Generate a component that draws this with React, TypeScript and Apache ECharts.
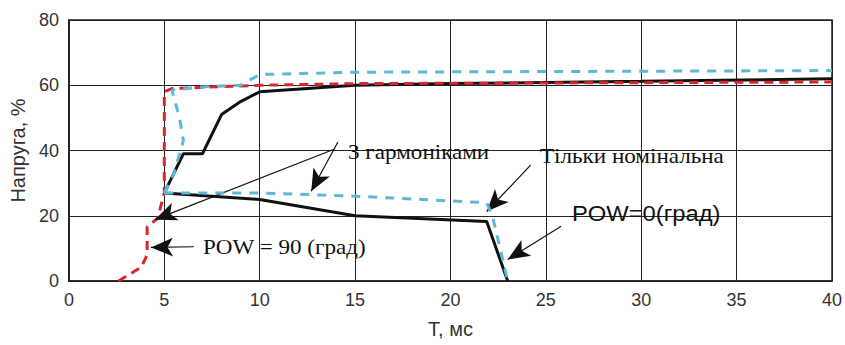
import React, { useEffect, useRef } from "react";
import * as echarts from "echarts";

const xTicks = [0, 5, 10, 15, 20, 25, 30, 35, 40];
const yTicks = [0, 20, 40, 60, 80];

// Black solid: only nominal
const blackUpper: [number, number][] = [
  [5, 27], [6, 39], [7, 39], [8, 51], [9, 55], [10, 58], [15, 60], [20, 60.5], [30, 61.2], [40, 62],
];
const blackLower: [number, number][] = [
  [5, 27], [10, 25], [15, 20], [21.9, 18.2], [23, 0],
];
// Cyan dashed: with harmonics, POW=0
const cyanUpper: [number, number][] = [
  [5, 27], [5.5, 33], [6, 43], [5.8, 50], [5.4, 58.5], [7, 59.5], [9, 60], [10, 63.3], [15, 64], [40, 64.5],
];
const cyanLower: [number, number][] = [
  [5, 27], [10, 27], [15, 26], [21.9, 24], [22.2, 20], [23, 0],
];
// Red dashed: POW=90
const redCurve: [number, number][] = [
  [2.6, 0], [3.8, 4.3], [4.1, 8], [4.1, 16.6], [4.65, 19.2], [5, 27], [5, 58], [5.4, 59], [10, 60], [15, 60.5], [40, 61],
];

// Annotation arrows: [from, to] in data coordinates
const arrows: [number, number][][] = [
  [[14.1, 42.6], [12.7, 27.5]],
  [[13.9, 40.4], [4.5, 18.8]],
  [[6.55, 10.5], [4.3, 10.3]],
  [[24.2, 35.5], [21.9, 21.3]],
  [[25.8, 16.8], [23.0, 6.6]],
];

const annotations = [
  { text: "3 гармоніками", x: 348, y: 152, serif: true },
  { text: "Тільки номінальна", x: 540, y: 156, serif: true },
  { text: "POW = 90 (град)", x: 203, y: 247, serif: true },
  { text: "POW=0(град)", x: 572, y: 213, serif: false },
];

const SANS = "'Liberation Sans Narrow', 'Liberation Sans', Arial, sans-serif";
const SERIF = "'Liberation Serif', 'DejaVu Serif', serif";

export default function App() {
  const ref = useRef<HTMLDivElement>(null);
  useEffect(() => {
    if (!ref.current) return;
    const chart = echarts.init(ref.current, null, { renderer: "svg" });
    const lineStyleCommon = { width: 3 };
    chart.setOption({
      animation: false,
      backgroundColor: "#ffffff",
      grid: {
        left: 68, right: 13, top: 20, bottom: 64,
        show: true, borderColor: "#222", borderWidth: 1.5,
      },
      xAxis: {
        type: "value", min: 0, max: 40, interval: 5,
        name: "T, мс", nameLocation: "middle", nameGap: 38,
        nameTextStyle: { fontFamily: SANS, fontSize: 20, color: "#333" },
        axisLine: { show: true, lineStyle: { color: "#222", width: 1.5 } },
        axisTick: { show: false },
        axisLabel: { fontFamily: SANS, fontSize: 18, color: "#333", margin: 10 },
        splitLine: { show: true, lineStyle: { color: "#222", width: 1 } },
      },
      yAxis: {
        type: "value", min: 0, max: 80, interval: 20,
        name: "Напруга, %", nameLocation: "middle", nameGap: 34,
        nameTextStyle: { fontFamily: SANS, fontSize: 20, color: "#333" },
        axisLine: { show: true, lineStyle: { color: "#222", width: 1.5 } },
        axisTick: { show: false },
        axisLabel: { fontFamily: SANS, fontSize: 18, color: "#333", margin: 10 },
        splitLine: { show: true, lineStyle: { color: "#222", width: 1 } },
      },
      series: [
        {
          type: "line", data: blackUpper, showSymbol: false, symbol: "none",
          lineStyle: { ...lineStyleCommon, color: "#111" }, z: 3,
        },
        {
          type: "line", data: blackLower, showSymbol: false, symbol: "none",
          lineStyle: { ...lineStyleCommon, color: "#111" }, z: 3,
        },
        {
          type: "line", data: redCurve, showSymbol: false, symbol: "none",
          lineStyle: { ...lineStyleCommon, color: "#d8262c", type: [9, 6] }, z: 4,
        },
        {
          type: "line", data: cyanUpper, showSymbol: false, symbol: "none",
          lineStyle: { ...lineStyleCommon, color: "#5cb8d8", type: [9, 8] }, z: 5,
        },
        {
          type: "line", data: cyanLower, showSymbol: false, symbol: "none",
          lineStyle: { ...lineStyleCommon, color: "#5cb8d8", type: [9, 8] }, z: 5,
        },
        {
          type: "line", data: [], symbol: "none", z: 6,
          markLine: {
            silent: true, animation: false,
            symbol: ["none", "arrow"], symbolSize: [14, 22],
            label: { show: false },
            lineStyle: { color: "#111", width: 1.2, type: "solid" },
            data: arrows.map(([a, b]) => [{ coord: a }, { coord: b }]),
          },
        },
      ],
      graphic: annotations.map((a) => ({
        type: "text", x: a.x, y: a.y, z: 20,
        scaleX: a.serif ? 1.1 : 1.08,
        style: {
          text: a.text,
          fontFamily: a.serif ? SERIF : "'Liberation Sans', Arial, sans-serif",
          fontSize: a.serif ? 21 : 22,
          fill: "#111",
          textVerticalAlign: "middle",
          verticalAlign: "middle",
        },
      })),
    });
    return () => chart.dispose();
  }, []);
  return (
    <div
      ref={ref}
      style={{ width: 845, height: 345, position: "absolute", left: 0, top: 0 }}
    />
  );
}
